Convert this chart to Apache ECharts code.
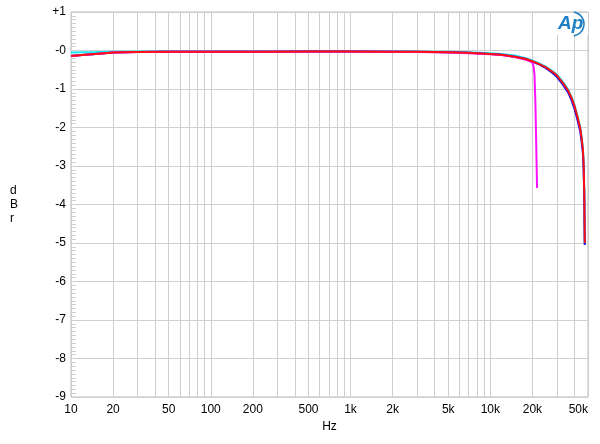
<!DOCTYPE html>
<html><head><meta charset="utf-8">
<script src="https://cdn.jsdelivr.net/npm/echarts@6/dist/echarts.min.js"></script>
<style>html,body{margin:0;padding:0;background:#fff}#c{width:600px;height:444px}</style>
</head><body><div id="c"></div>
<script>
// Tick values / labels
const xTickValues = [10,20,30,40,50,60,70,80,90,100,200,300,400,500,600,700,800,900,1000,2000,3000,4000,5000,6000,7000,8000,9000,10000,20000,30000,40000,50000];
const xLabelValues = [10,20,50,100,200,500,1000,2000,5000,10000,20000,50000];
const yTicks = [1,0,-1,-2,-3,-4,-5,-6,-7,-8,-9];

// Series data (Hz, dBr)
const cyanFreq = [10,12,15,20,30,50,100,200,500,1000,2000,3000,5000,7000,10000,12000,15000,18000,20000,22000,25000,28000,30000,33000,36000,38000,40000,42000,44000,45000,46000,46500,47000,47400];
const cyanVal  = [-0.05,-0.045,-0.04,-0.03,-0.025,-0.02,-0.02,-0.02,-0.02,-0.02,-0.02,-0.025,-0.03,-0.045,-0.07,-0.09,-0.13,-0.2,-0.26,-0.32,-0.42,-0.54,-0.63,-0.81,-1.01,-1.19,-1.41,-1.69,-1.99,-2.24,-2.54,-2.9,-3.6,-5.0];

const blueFreq = [10,12,15,20,30,50,100,200,500,1000,2000,3000,5000,7000,10000,12000,15000,18000,20000,22000,25000,28000,30000,33000,36000,38000,40000,42000,44000,45000,46000,46500,47000,47400];
const blueVal  = [-0.14,-0.12,-0.09,-0.05,-0.04,-0.035,-0.03,-0.03,-0.025,-0.025,-0.03,-0.035,-0.045,-0.06,-0.09,-0.11,-0.16,-0.22,-0.29,-0.35,-0.46,-0.59,-0.69,-0.88,-1.09,-1.28,-1.51,-1.8,-2.1,-2.36,-2.68,-3.05,-3.75,-5.05];

const magentaFreq = [10,12,15,20,30,50,100,200,500,1000,2000,3000,5000,7000,10000,12000,15000,18000,20000,20400,20700,21000,21300,21600];
const magentaVal  = [-0.14,-0.12,-0.09,-0.05,-0.04,-0.035,-0.03,-0.03,-0.03,-0.03,-0.035,-0.04,-0.055,-0.07,-0.1,-0.12,-0.17,-0.24,-0.31,-0.42,-0.62,-1.3,-2.4,-3.57];

const redFreq = [10,12,15,20,30,50,100,200,500,1000,2000,3000,5000,7000,10000,12000,15000,18000,20000,22000,25000,28000,30000,33000,36000,38000,40000,42000,44000,45000,46000,46500,47000,47400];
const redVal  = [-0.14,-0.12,-0.09,-0.05,-0.04,-0.035,-0.03,-0.03,-0.025,-0.025,-0.03,-0.035,-0.045,-0.06,-0.09,-0.11,-0.16,-0.22,-0.28,-0.34,-0.44,-0.56,-0.65,-0.84,-1.04,-1.22,-1.44,-1.72,-2.02,-2.27,-2.58,-2.95,-3.65,-5.0];

function pairs(f, v){ return f.map((x,i)=>[x, v[i]]); }
function fmtHz(v){ return v >= 1000 ? (v/1000) + 'k' : String(v); }

const chart = echarts.init(document.getElementById('c'), null, {renderer:'canvas'});
const FONT = 'Liberation Sans, Arial, sans-serif';
const mk = (name, color, f, v) => ({
  name, type:'line', data: pairs(f,v), showSymbol:false, symbol:'none',
  lineStyle:{color, width:2}, itemStyle:{color}, animation:false, z:2
});
chart.setOption({
  animation:false,
  backgroundColor:'#fff',
  grid:{left:71, right:12, top:12, bottom:47, show:true, borderColor:'#bdbdbd', borderWidth:1},
  xAxis:{
    type:'log', logBase:10, min:10, max:50000,
    name:'Hz', nameLocation:'middle', nameGap:23,
    nameTextStyle:{fontFamily:FONT, fontSize:12, color:'#000'},
    axisLine:{show:false},
    axisTick:{show:false, customValues:xTickValues},
    splitLine:{show:true, lineStyle:{color:'#cfcfcf', width:1}},
    axisLabel:{customValues:xLabelValues, formatter:fmtHz, fontFamily:FONT, fontSize:12, color:'#000', margin:7, alignMaxLabel:'right'}
  },
  yAxis:{
    type:'value', min:-9, max:1, interval:1,
    axisLine:{show:false},
    axisTick:{show:true, inside:true, length:5, lineStyle:{color:'#cfcfcf'}},
    minorTick:{show:true, splitNumber:10, length:5, lineStyle:{color:'#cfcfcf'}},
    splitLine:{show:true, lineStyle:{color:'#cfcfcf', width:1}},
    axisLabel:{formatter: v => v > 0 ? '+' + v : (v === 0 ? '-0' : String(v)), fontFamily:FONT, fontSize:12, color:'#000', margin:5}
  },
  series:[
    mk('cyan', '#18e8f0', cyanFreq, cyanVal),
    mk('blue', '#1010ff', blueFreq, blueVal),
    mk('magenta', '#ff10ff', magentaFreq, magentaVal),
    mk('red', '#ff0f0f', redFreq, redVal)
  ],
  graphic:[
    {type:'text', left:10, top:184, style:{text:'d\nB\nr', fontFamily:FONT, fontSize:12, lineHeight:14, fill:'#000', align:'center'}},
    {type:'rect', shape:{x:555, y:13, width:33, height:22}, style:{fill:'#fff'}, z:10},
    {type:'text', x:558, y:14, style:{text:'Ap', fontFamily:FONT, fontSize:19, fontStyle:'italic', fontWeight:'bold', fill:'#1f7fc4'}, z:11},
    {type:'arc', shape:{cx:572, cy:24, r:12, startAngle:-Math.PI*0.45, endAngle:Math.PI*0.45}, style:{stroke:'#1f7fc4', lineWidth:1.6, fill:null}, z:11}
  ]
});
</script></body></html>
